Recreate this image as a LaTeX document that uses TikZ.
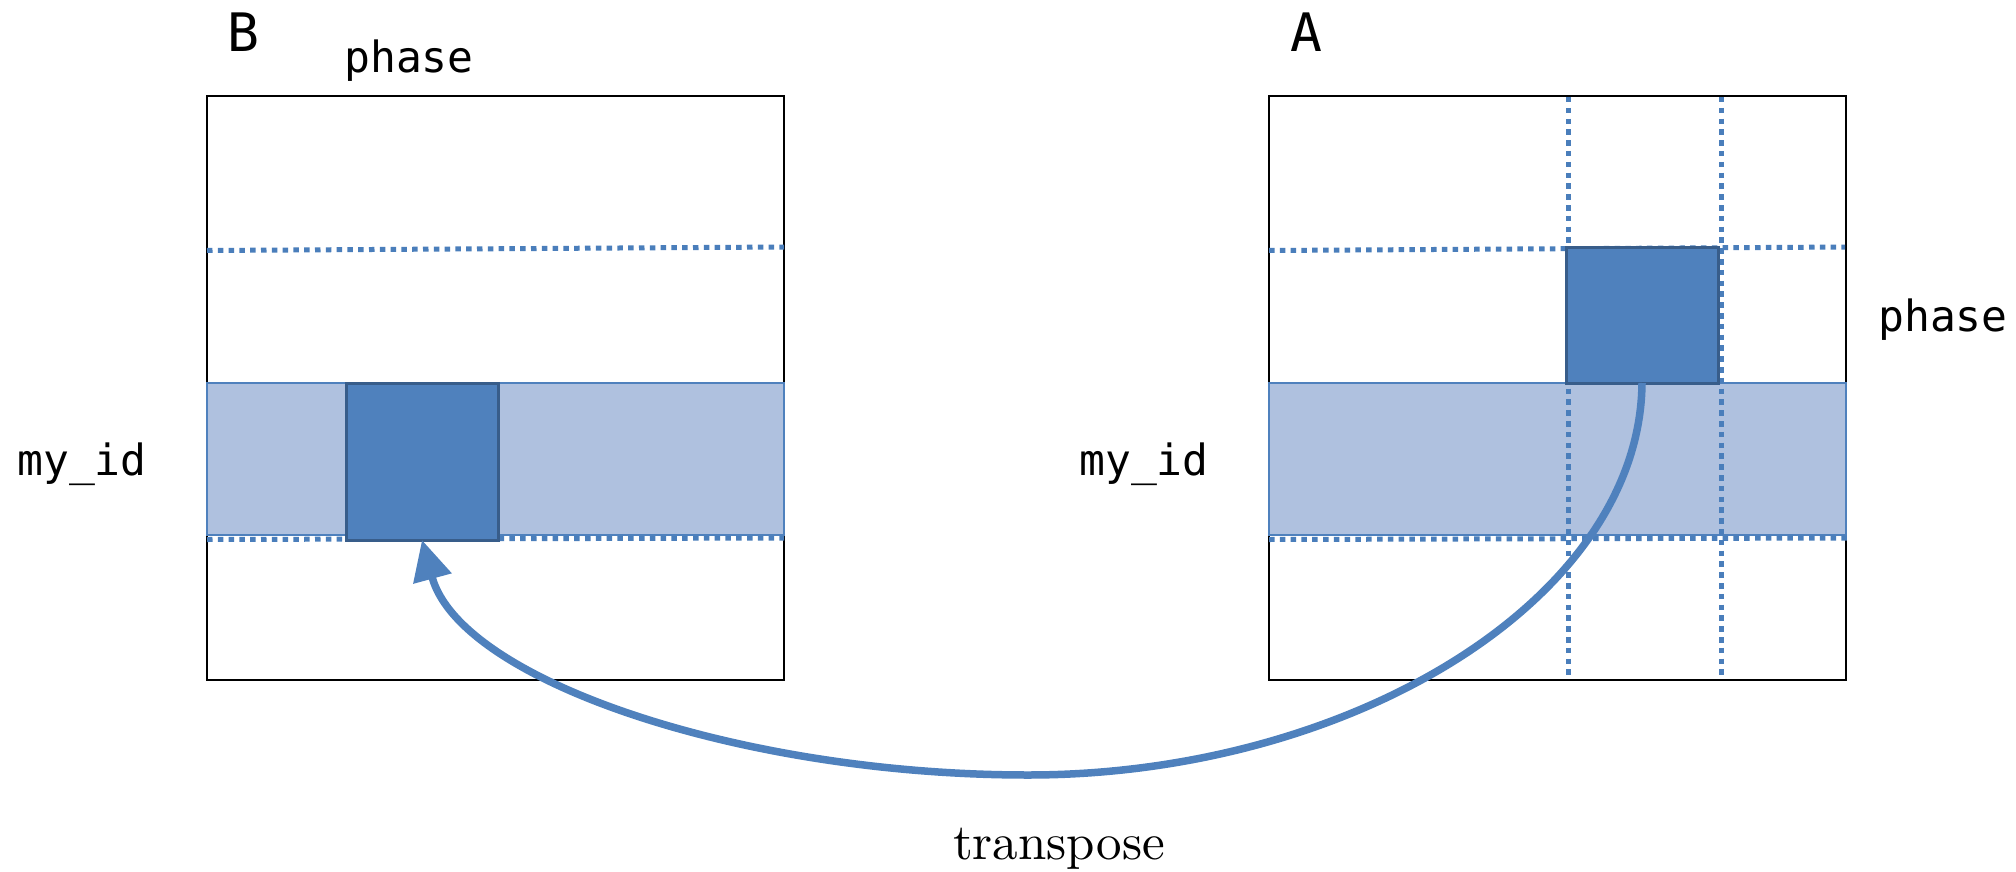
\documentclass[tikz,border=0pt]{standalone}
\usepackage{fontspec}
\newfontfamily\monof{DejaVu Sans Mono}
\newfontfamily\lmten{lmroman10-regular}[Extension=.otf]
\usetikzlibrary{arrows.meta}
\definecolor{darkfill}{HTML}{4F81BD}
\definecolor{darkedge}{HTML}{385D8A}
\definecolor{bandfill}{RGB}{175,193,223}
\definecolor{dotcol}{HTML}{4A7EBB}
\tikzset{
  matbox/.style={draw=black, line width=2.8pt, fill=white, inner sep=0pt, outer sep=0pt, anchor=north west, minimum width=577pt, minimum height=584pt},
  bandbox/.style={draw=darkfill, line width=2pt, fill=bandfill, inner sep=0pt, outer sep=0pt, anchor=north west, minimum width=577pt, minimum height=152pt},
  darkbox/.style={draw=darkedge, line width=3pt, fill=darkfill, inner sep=0pt, outer sep=0pt, anchor=north west, minimum width=152pt},
  dotline/.style={draw=dotcol, line width=5pt, dash pattern=on 5.5pt off 5.3pt},
  monolbl/.style={font=\monof\fontsize{43}{50}\selectfont, inner sep=0pt, anchor=base},
  biglbl/.style={font=\monof\fontsize{53}{60}\selectfont, inner sep=0pt, anchor=base},
  seriflbl/.style={font=\lmten\fontsize{51}{60}\selectfont, inner sep=0pt, anchor=base},
  transarrow/.style={draw=darkfill, line width=7.5pt, -{Triangle[length=40pt, width=38pt]}}
}
\begin{document}
\begin{tikzpicture}[x=1pt, y=-1pt]
\useasboundingbox (0,0) rectangle (2016,872);
% matrix B
\node[matbox] (boxB) at (207,96) {};
\draw[dotline] (207,250.5) -- (784,247);
\draw[dotline] (207,539.5) -- (784,538);
\node[bandbox] (bandB) at (207,383) {};
\node[darkbox, minimum height=157pt] (darkB) at (346,383) {};
% matrix A
\node[matbox] (boxA) at (1269,96) {};
\draw[dotline] (1269,250.5) -- (1845,247);
\node[bandbox] (bandA) at (1269,383) {};
\draw[dotline] (1269,539.5) -- (1847,538);
\draw[dotline] (1568,97) -- (1568,680);
\draw[dotline] (1721,97) -- (1721,680);
\node[darkbox, minimum height=136pt] (darkA) at (1566,247) {};
% labels
\node[biglbl] (labB) at (243,52) {B};
\node[biglbl] (labA) at (1306,52) {A};
\node[monolbl] (phaseB) at (409,73) {phase};
\node[monolbl] (phaseA) at (1943,331) {phase};
\node[monolbl] (idB) at (82,475) {my\_id};
\node[monolbl] (idA) at (1144,475) {my\_id};
\node[seriflbl] (trans) at (1059,859) {transpose};
% connector
\coordinate (low) at (1028,775);
\draw[transarrow] (darkA.south) .. controls (1640,600) and (1350,775) .. (low)
  .. controls (740,775) and (460,680) .. (darkB.south);
\end{tikzpicture}
\end{document}
